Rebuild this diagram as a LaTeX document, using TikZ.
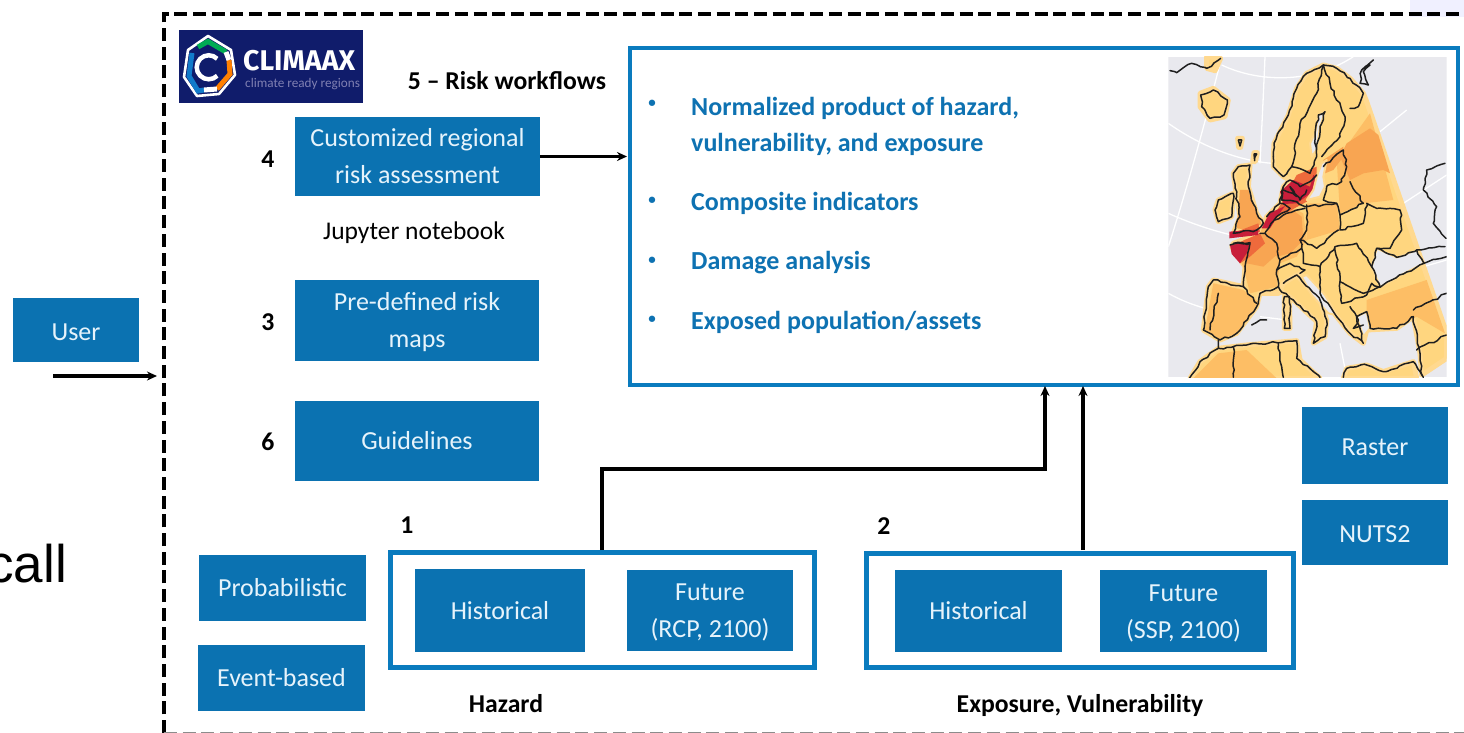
\documentclass[tikz,border=0pt]{standalone}
\usepackage{fontspec}
\setmainfont{Carlito}
\newfontfamily\arialfont{Liberation Sans}
\newfontfamily\logofont{Fira Sans}
\usetikzlibrary{arrows.meta,decorations.pathmorphing}
\pgfmathsetseed{7}
\definecolor{boxblue}{HTML}{0B72B1}
\definecolor{framblue}{HTML}{0A7BBE}
\definecolor{boxtext}{HTML}{E6F3FB}
\definecolor{bullettext}{HTML}{0E72B2}
\definecolor{navy}{HTML}{101C6B}
\definecolor{mapgray}{HTML}{E9E9EE}
\definecolor{landa}{HTML}{FFD67F}
\definecolor{landb}{HTML}{FDBE65}
\definecolor{landc}{HTML}{F8A552}
\definecolor{landd}{HTML}{EE6A3C}
\definecolor{lande}{HTML}{C81E3A}
\definecolor{halo}{HTML}{FFD98F}
\newcommand{\dnl}[1]{\raisebox{-2pt}[\height][\depth]{#1}}
\tikzset{
  bluebox/.style={fill=boxblue,draw=none,text=boxtext,align=center,inner sep=0pt,outer sep=0pt,font=\fontsize{26}{37}\selectfont},
  groupframe/.style={draw=framblue,line width=5pt,fill=white,inner sep=0pt,outer sep=0pt},
  boldlabel/.style={font=\fontsize{25.7}{30}\selectfont\bfseries,text=black,inner sep=0pt},
  bullettxt/.style={font=\fontsize{26}{36}\selectfont\bfseries,text=bullettext,align=left,anchor=west,inner sep=0pt},
  bulletdot/.style={font=\fontsize{15}{16}\selectfont\bfseries,text=bullettext,inner sep=0pt},
  conn/.style={draw=black,line width=3.1pt,-{Stealth[length=10pt,width=9pt]}},
  landfill/.style={fill=landa,draw=halo,line width=5pt,line join=round},
  coast/.style={draw=black!88,line width=1.5pt,line join=round,line cap=round,decorate,decoration={random steps,segment length=4.5pt,amplitude=1.2pt}},
  seafill/.style={fill=mapgray,draw=halo,line width=2pt,line join=round},
  grat/.style={draw=white,line width=1.3pt}
}
\begin{document}
\begin{tikzpicture}[x=1pt,y=-1pt]
\useasboundingbox (0,0) rectangle (1464,733);
\fill[white] (0,0) rectangle (1464,733);
\fill[blue!6] (1410,0) rectangle (1464,17);
% stray text
\node[anchor=base east,inner sep=0pt,font=\arialfont\fontsize{53}{60}\selectfont] (stray) at (67,582) {call};
% dashed frame
\draw[black,line width=4.2pt,dash pattern=on 13pt off 5.7pt] (164,733) -- (164,14) -- (1464,14);
\draw[black!45,line width=1pt,dash pattern=on 13pt off 5.7pt] (164,732) -- (1464,732);
% boxes
\node[bluebox,minimum width=126pt,minimum height=64pt] (user) at (76,330) {\dnl{User}};
\node[bluebox,minimum width=245pt,minimum height=79pt] (cust) at (417.5,156.5) {Customized regional\\risk assessment};
\node[bluebox,minimum width=244pt,minimum height=81pt] (pre) at (417,320.5) {\dnl{Pre-defined risk}\\\dnl{maps}};
\node[bluebox,minimum width=244pt,minimum height=80pt] (guide) at (417,441) {Guidelines};
\node[bluebox,minimum width=167pt,minimum height=66pt] (prob) at (282.5,588) {Probabilistic};
\node[bluebox,minimum width=167pt,minimum height=66pt] (event) at (281.5,678) {Event-based};
\node[groupframe,minimum width=424pt,minimum height=115pt] (hazard) at (602.5,610) {};
\node[bluebox,minimum width=170pt,minimum height=83pt] (hhist) at (500,610.5) {Historical};
\node[bluebox,minimum width=166pt,minimum height=81pt] (hfut) at (710,610.5) {\dnl{Future}\\\dnl{(RCP, 2100)}};
\node[groupframe,minimum width=427pt,minimum height=114pt] (expo) at (1080,610.5) {};
\node[bluebox,minimum width=167pt,minimum height=82pt] (ehist) at (978.5,611) {Historical};
\node[bluebox,minimum width=167pt,minimum height=82pt] (efut) at (1183.5,611) {\dnl{Future}\\\dnl{(SSP, 2100)}};
\node[bluebox,minimum width=146pt,minimum height=77pt] (raster) at (1375,445.5) {\dnl{Raster}};
\node[bluebox,minimum width=146pt,minimum height=65pt] (nuts) at (1375,532.5) {\dnl{NUTS2}};
\node[draw=framblue,line width=4pt,fill=white,inner sep=0pt,outer sep=0pt,minimum width=828pt,minimum height=337pt] (main) at (1044,216.5) {};
% logo
\node[fill=navy,inner sep=0pt,outer sep=0pt,minimum width=184pt,minimum height=73pt] (logo) at (271,66.5) {};
\draw[white,line width=2.6pt,line join=round] (208,36) -- (231,50) -- (235,75) -- (219,94) -- (197,96) -- (184,77) -- (188,50) -- cycle;
\draw[teal!65!green,line width=5pt] (198,47) -- (208,41.5) -- (226,52);
\draw[orange,line width=5pt] (229,60) -- (230,74) -- (217,89);
\draw[cyan!60!blue,line width=5pt] (204,90) -- (198,91) -- (189,76) -- (192,53);
\draw[white,line width=5pt] (226,52) -- (229,60);
\draw[white,line width=5pt] (217,89) -- (204,90);
\draw[white,line width=4.5pt,line cap=butt] (217.2,58.8) arc (-45:-315:12);
\node[anchor=west,text=white,inner sep=0pt,font=\logofont\fontsize{28.5}{30}\selectfont\bfseries] (logotitle) at (243,61) {CLIMAAX};
\node[anchor=west,text=blue!25!gray!80,inner sep=0pt,font=\fontsize{13.2}{16}\selectfont] (logosub) at (245,84) {climate ready regions};
% labels
\node[boldlabel] (t5) at (507,81) {5 -- Risk workflows};
\node[boldlabel] (t4) at (268,159) {4};
\node[boldlabel] (t3) at (268,322) {3};
\node[boldlabel] (t6) at (268,442) {6};
\node[boldlabel] (t1) at (407,525) {1};
\node[boldlabel] (t2) at (884,526) {2};
\node[inner sep=0pt,font=\fontsize{25.5}{30}\selectfont] (jup) at (414,232.5) {Jupyter notebook};
\node[boldlabel] (thaz) at (506,704) {Hazard};
\node[boldlabel] (texp) at (1080,705) {Exposure, Vulnerability};
% bullets
\node[bulletdot] (b1) at (652,104) {•};
\node[bulletdot] (b2) at (652,201) {•};
\node[bulletdot] (b3) at (652,261) {•};
\node[bulletdot] (b4) at (652,320) {•};
\node[bullettxt] (bt1) at (691,126) {Normalized product of hazard,\\vulnerability, and exposure};
\node[bullettxt] (bt2) at (691,203) {Composite indicators};
\node[bullettxt] (bt3) at (691,263) {Damage analysis};
\node[bullettxt] (bt4) at (691,322) {Exposed population/assets};
% connectors
\coordinate (userstart) at (53,376);
\coordinate (frameleft) at (157,376);
\coordinate (hazout) at (602,550);
\coordinate (hazin) at (1045,386);
\coordinate (expout) at (1083,550);
\coordinate (expin) at (1083,386);
\draw[conn] (userstart) -- (frameleft);
\draw[conn,shorten >=3pt] (cust.east) -- (cust.east -| main.west);
\draw[conn] (hazout) -- (602,469) -- (1045,469) -- (hazin);
\draw[conn] (expout) -- (expin);
% map
\begin{scope}[xshift=1150pt,x=0.33333pt,y=-0.33333pt]
\clip (55,170) rectangle (890,1132);
\fill[mapgray] (55,170) rectangle (890,1132);
\draw[grat] (215,195) .. controls (320,245) and (480,255) .. (610,170);
\draw[grat] (55,370) .. controls (140,430) and (250,480) .. (365,490);
\draw[grat] (55,640) .. controls (110,665) and (180,690) .. (245,705);
\draw[grat] (55,880) .. controls (90,900) and (130,915) .. (165,925);
\draw[grat] (345,170) .. controls (340,290) and (335,390) .. (330,490);
\draw[grat] (210,190) .. controls (170,350) and (110,570) .. (55,740);
\draw[grat] (690,395) -- (770,330);
\draw[grat] (760,610) -- (890,525);
\draw[grat] (330,950) -- (410,960);
\draw[grat] (570,1030) -- (590,1132);
\draw[grat] (820,800) -- (890,780);
% land
\path[landfill] (370,470) -- (372,430) -- (415,345) -- (440,265) -- (470,220) -- (520,195) -- (560,205) -- (600,235) -- (640,280) -- (650,305) -- (890,1000) -- (890,1075) -- (815,1125) -- (810,1060) -- (790,950) -- (740,985) -- (650,990) -- (640,1030) -- (600,1000) -- (560,950) -- (510,880) -- (450,820) -- (420,860) -- (385,880) -- (330,880) -- (320,920) -- (260,1000) -- (210,1020) -- (160,990) -- (175,860) -- (190,840) -- (280,860) -- (285,800) -- (245,740) -- (250,730) -- (330,700) -- (350,650) -- (390,610) -- (400,560) -- (420,540) -- (400,530) -- (370,500) -- cycle;
\path[landfill] (120,1135) -- (150,1085) -- (205,1045) -- (290,1035) -- (440,1022) -- (450,1080) -- (510,1135) -- cycle;
\path[landfill] (580,1135) -- (590,1105) -- (650,1095) -- (700,1115) -- (790,1085) -- (800,1135) -- cycle;
\path[landfill] (400,850) -- (440,825) -- (510,900) -- (530,960) -- (525,1010) -- (490,1030) -- (500,965) -- (430,900) -- (390,870) -- cycle;
\path[landfill] (265,500) -- (300,495) -- (295,560) -- (320,640) -- (340,670) -- (320,690) -- (250,700) -- (270,650) -- (260,590) -- (250,520) -- cycle;
\path[landfill] (205,600) -- (250,580) -- (245,650) -- (205,665) -- (195,630) -- cycle;
\path[landfill] (150,280) -- (190,265) -- (235,300) -- (225,350) -- (180,360) -- (150,320) -- cycle;
\path[landfill] (170,170) -- (212,175) -- (195,212) -- (170,205) -- cycle;
\path[landfill] (403,890) -- (418,890) -- (420,985) -- (403,985) -- cycle;
\path[landfill] (263,415) -- (277,415) -- (272,442) -- (266,442) -- cycle;
\path[landfill] (312,458) -- (322,458) -- (316,485) -- (308,485) -- cycle;
% colour zones
\fill[landb] (350,650) -- (420,620) -- (460,640) -- (470,720) -- (440,770) -- (390,790) -- (380,860) -- (300,880) -- (280,800) -- (245,740) -- (330,700) -- cycle;
\fill[landb] (190,850) -- (280,870) -- (330,910) -- (260,1000) -- (210,1020) -- (165,990) -- cycle;
\fill[landb] (470,610) -- (560,610) -- (570,690) -- (470,720) -- cycle;
\fill[landb] (560,480) -- (660,340) -- (730,600) -- (640,610) -- (570,640) -- cycle;
\fill[landb] (650,900) -- (830,840) -- (885,1000) -- (800,950) -- (730,985) -- (650,985) -- cycle;
\fill[landb] (130,1135) -- (205,1060) -- (290,1050) -- (380,1135) -- cycle;
\fill[landc] (590,430) -- (660,385) -- (685,405) -- (720,520) -- (700,510) -- (640,520) -- (600,540) -- (570,470) -- cycle;
\fill[landc] (355,660) -- (420,625) -- (455,650) -- (460,720) -- (420,760) -- (380,770) -- (350,720) -- cycle;
\fill[landc] (280,720) -- (350,700) -- (385,760) -- (340,800) -- (290,790) -- cycle;
\fill[landc] (270,570) -- (295,570) -- (320,640) -- (335,672) -- (300,690) -- (260,685) -- cycle;
\fill[landc] (520,480) -- (580,440) -- (580,470) -- (550,510) -- (525,520) -- cycle;
\fill[landd] (400,600) -- (440,525) -- (500,500) -- (500,540) -- (470,605) -- (415,635) -- (370,650) -- cycle;
\fill[landd] (250,735) -- (330,700) -- (345,730) -- (300,770) -- (270,790) -- cycle;
\fill[landd] (260,695) -- (325,670) -- (330,695) -- (260,710) -- cycle;
\fill[lande] (390,575) -- (430,540) -- (480,560) -- (490,525) -- (503,535) -- (482,580) -- (440,610) -- (400,612) -- cycle;
\fill[lande] (335,685) -- (358,640) -- (405,618) -- (385,645) -- (360,685) -- cycle;
\fill[lande] (240,735) -- (300,728) -- (290,760) -- (270,790) -- (245,762) -- cycle;
\fill[lande] (238,695) -- (325,688) -- (325,705) -- (238,715) -- cycle;
% seas
\path[seafill] (665,800) -- (680,745) -- (740,772) -- (800,750) -- (822,790) -- (760,822) -- (690,862) -- cycle;
\path[seafill] (515,490) -- (530,480) -- (520,530) -- (525,560) -- (510,590) -- (470,600) -- (490,570) -- (500,530) -- cycle;
\path[seafill] (495,400) -- (505,345) -- (525,335) -- (510,380) -- (500,450) -- (485,470) -- (480,430) -- cycle;
\path[seafill] (455,830) -- (470,825) -- (525,885) -- (560,945) -- (535,940) -- (485,885) -- cycle;
\path[seafill] (620,950) -- (650,935) -- (660,985) -- (640,1010) -- cycle;
% coast outlines
\draw[coast] (370,470) -- (372,430) -- (415,345) -- (440,265) -- (470,220) -- (520,195) -- (560,205) -- (600,235) -- (640,280) -- (625,320) -- (600,325);
\draw[coast] (520,195) -- (540,250) -- (585,350) -- (570,410) -- (515,470);
\draw[coast] (370,470) -- (370,500) -- (400,530) -- (425,500) -- (450,370) -- (500,280) -- (520,195);
\draw[coast] (425,500) -- (480,520) -- (500,470) -- (495,400) -- (505,345) -- (525,335) -- (510,380) -- (500,450);
\draw[coast] (400,560) -- (420,540) -- (450,560) -- (480,545) -- (500,525);
\draw[coast] (390,610) -- (400,560) -- (395,600) -- (440,605) -- (465,620) -- (560,610);
\draw[coast] (400,570) -- (440,590) -- (420,560) -- (450,600) -- (470,570);
\draw[coast] (350,650) -- (390,610) -- (420,625) -- (380,650) -- (345,700) -- (330,700);
\draw[coast] (520,500) -- (580,450) -- (590,500) -- (575,545) -- (530,560) -- (520,600) -- (560,610) -- (570,645) -- (640,610) -- (600,545);
\draw[coast] (570,645) -- (570,690) -- (640,670) -- (650,610) -- (680,625) -- (750,630) -- (755,690) -- (720,745) -- (680,745);
\draw[coast] (470,615) -- (470,690) -- (450,720) -- (500,745) -- (565,690);
\draw[coast] (375,660) -- (400,645) -- (465,625);
\draw[coast] (345,700) -- (380,730) -- (390,780) -- (380,810) -- (385,860) -- (330,880);
\draw[coast] (390,780) -- (455,745) -- (450,720);
\draw[coast] (380,810) -- (420,790) -- (465,810) -- (450,820);
\draw[coast] (455,745) -- (460,790) -- (510,800) -- (555,740) -- (620,730) -- (665,800) -- (690,860) -- (640,880) -- (570,845) -- (555,740);
\draw[coast] (510,800) -- (510,880) -- (560,950) -- (600,1000) -- (640,1030) -- (620,950) -- (650,935);
\draw[coast] (600,920) -- (625,960) -- (610,985) -- (640,975);
\draw[coast] (570,845) -- (575,910) -- (650,885) -- (665,850) -- (690,862) -- (760,822) -- (822,790) -- (890,770);
\draw[coast] (665,800) -- (680,745) -- (740,772) -- (800,750) -- (822,790);
\draw[coast] (650,935) -- (660,985) -- (740,985) -- (790,950) -- (810,1060) -- (815,1125);
\draw[coast] (790,930) -- (890,880);
\draw[coast] (800,1050) -- (890,1005);
\draw[coast] (285,800) -- (280,860) -- (190,840) -- (175,860) -- (160,990) -- (210,1020) -- (260,1000) -- (320,920) -- (330,880);
\draw[coast] (280,860) -- (320,910);
\draw[coast] (205,880) -- (180,990);
\draw[coast] (250,730) -- (300,730) -- (285,800);
\draw[coast] (240,735) -- (300,728);
\draw[coast] (400,850) -- (440,825) -- (510,900) -- (530,960) -- (525,1010) -- (490,1030) -- (500,965) -- (430,900) -- (390,870) -- (385,860);
\draw[coast] (265,500) -- (300,495) -- (295,560) -- (320,640) -- (340,670) -- (320,690) -- (250,700) -- (270,650) -- (260,590) -- (250,520) -- (265,500);
\draw[coast] (205,600) -- (250,580) -- (245,650) -- (205,665) -- (195,630) -- (205,600);
\draw[coast] (152,285) -- (190,270) -- (232,300) -- (222,345) -- (180,355) -- (155,320) -- (152,285);
\draw[coast] (60,212) -- (80,218) -- (125,190) -- (170,205) -- (212,175);
\draw[coast] (403,890) -- (418,890) -- (420,985) -- (403,985) -- (403,890);
\draw[coast] (265,420) -- (275,420) -- (270,438) -- (265,420);
\draw[coast] (312,462) -- (320,462) -- (314,482) -- (312,462);
\draw[coast] (305,975) -- (330,960) -- (350,960);
\draw[coast] (118,1135) -- (150,1085) -- (205,1045) -- (290,1035) -- (440,1022);
\draw[coast] (205,1020) -- (205,1045);
\draw[coast] (250,1040) -- (250,1132);
\draw[coast] (385,1030) -- (400,1132);
\draw[coast] (440,1022) -- (440,1075) -- (510,1132);
\draw[coast] (580,1132) -- (590,1105) -- (650,1095) -- (700,1115) -- (790,1085) -- (820,1132);
\draw[coast] (660,195) -- (640,215) -- (655,255) -- (630,250) -- (635,210) -- (670,180);
\draw[coast] (885,490) -- (830,510) -- (820,570) -- (860,620) -- (850,670) -- (888,715);
\draw[coast] (800,750) -- (885,740);
\end{scope}
\end{tikzpicture}
\end{document}
